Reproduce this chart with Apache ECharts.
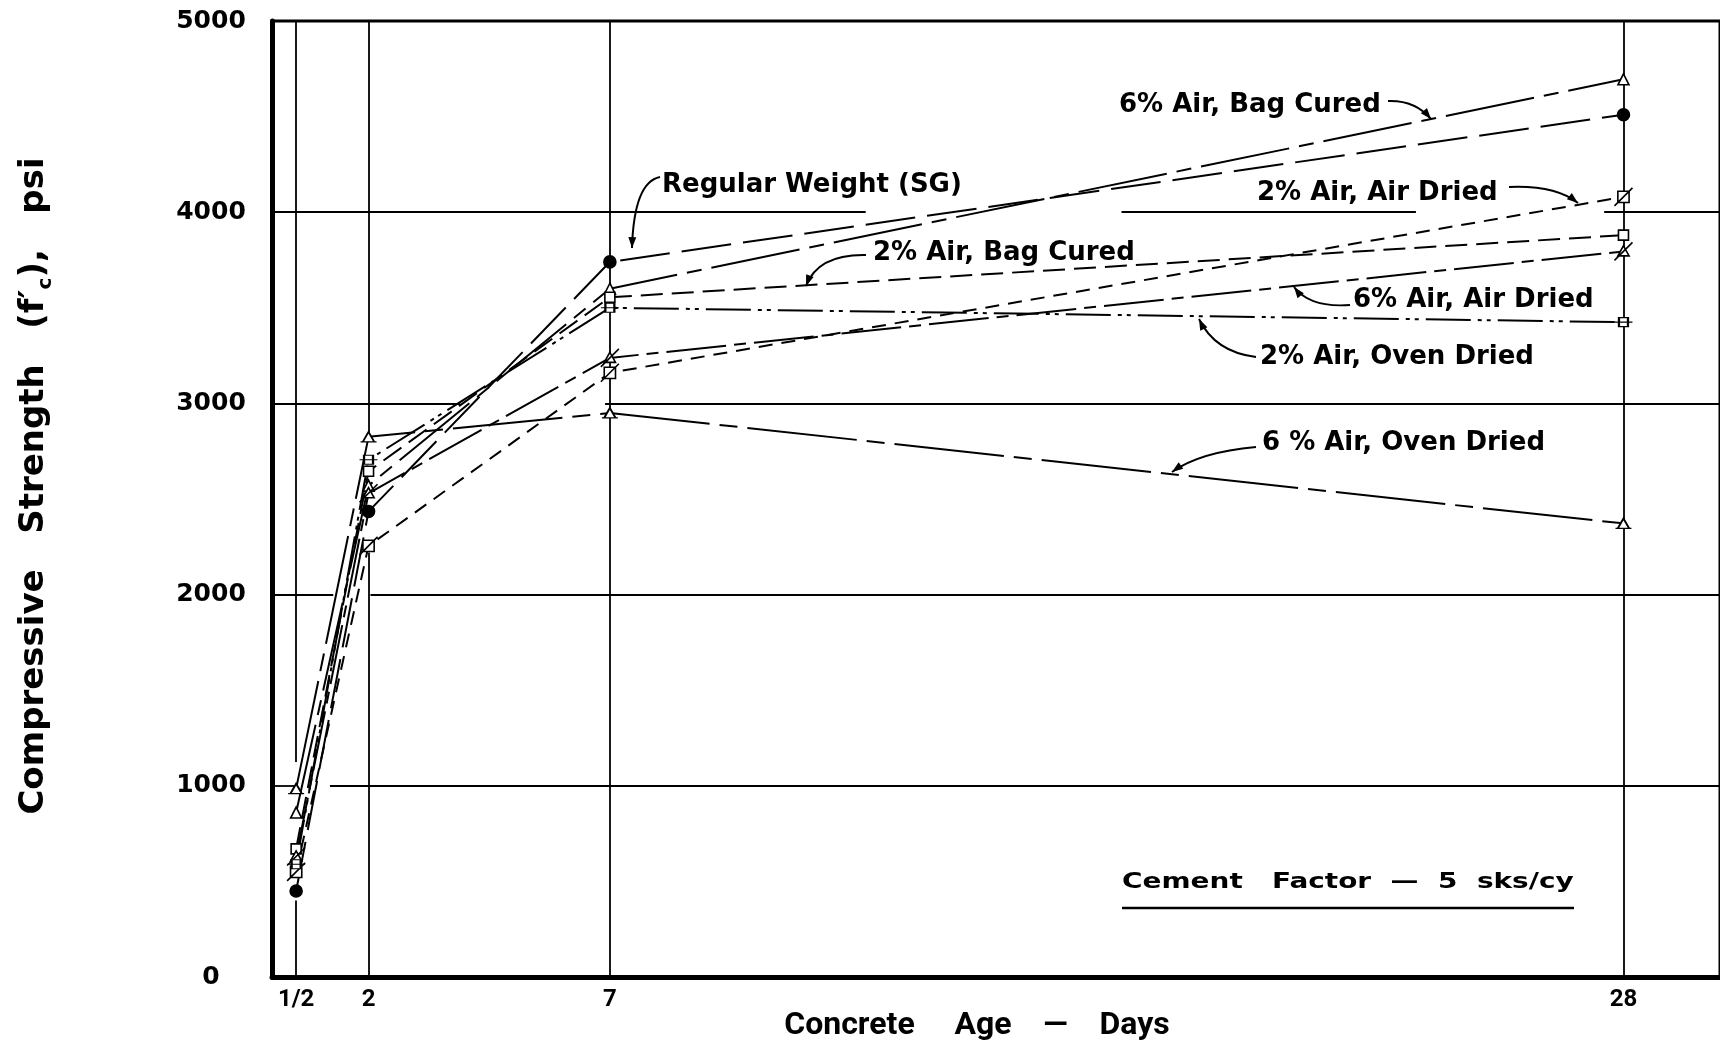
<!DOCTYPE html>
<html>
<head>
<meta charset="utf-8">
<title>Compressive Strength vs Concrete Age</title>
<script src="https://cdn.jsdelivr.net/npm/echarts@6/dist/echarts.min.js"></script>
<style>
  html, body { margin: 0; padding: 0; background: #fff; }
  #chart { width: 1720px; height: 1046px; }
</style>
</head>
<body>
<div id="chart"></div>
<script>
// concrete age (days) and its tick labels
const days = [0.5, 2, 7, 28];
const dayLabels = ["1/2", "2", "7", "28"];

// compressive strength f'c, psi
const regularWeight = [450, 2435, 3740, 4510];
const air6BagCured = [860, 2570, 3600, 4695];
const air2AirDried = [550, 2255, 3160, 4080];
const air2BagCured = [670, 2645, 3555, 3880];
const air6AirDried = [630, 2530, 3238, 3795];
const air2OvenDried = [590, 2705, 3500, 3425];
const air6OvenDried = [985, 2825, 2950, 2372];

// grid lines, drawn in pieces like the original (gaps where the drafting left them out)
const gridLines = [
  [[0, 1000], [0.52, 1000]], [[1.2, 1000], [30, 1000]],
  [[0, 2000], [1.27, 2000]], [[2.04, 2000], [30, 2000]],
  [[0, 3000], [3.9, 3000]], [[6.9, 3000], [30, 3000]],
  [[0, 4000], [12.3, 4000]], [[17.6, 4000], [23.7, 4000]], [[27.6, 4000], [30, 4000]],
  [[0.5, 0], [0.5, 400]], [[0.5, 1125], [0.5, 5000]],
  [[2, 0], [2, 2220]], [[2, 2840], [2, 5000]],
  [[7, 0], [7, 5000]],
  [[28, 0], [28, 5000]],
];

const font = "DejaVu Sans";

const curves = [
  { name: "Regular Weight (SG)", values: regularWeight, symbol: "circle", size: 12, fill: "#000", dash: [50, 12] },
  { name: "6% Air, Bag Cured", values: air6BagCured, symbol: "triangle", size: 11, fill: "#fff", dash: [90, 10, 15, 10] },
  { name: "2% Air, Air Dried", values: air2AirDried, symbol: "path://M3,3L13,3L13,13L3,13Z M0,16L16,0", size: 18, fill: "#fff", dash: [14, 9] },
  { name: "2% Air, Bag Cured", values: air2BagCured, symbol: "rect", size: 10, fill: "#fff", dash: [22, 9] },
  { name: "6% Air, Air Dried", values: air6AirDried, symbol: "path://M8,3L13,12L3,12Z M0,16L16,0", size: 18, fill: "#fff", dash: [60, 8, 12, 8] },
  { name: "2% Air, Oven Dried", values: air2OvenDried, symbol: "path://M4,0L12,0L12,8L4,8Z M0,4L16,4", size: [18, 9], fill: "#fff", dash: [45, 7, 4, 5, 4, 7] },
  { name: "6% Air, Oven Dried", values: air6OvenDried, symbol: "path://M7,0L12,9L2,9Z M0,9L14,9", size: [16, 10], fill: "#fff", dash: [110, 10, 18, 10] },
];

// label text, left x, middle y; arrow: start, control, end
const notes = [
  { text: "Regular Weight (SG)", x: 662, y: 185, arrow: [660, 177, 634, 182, 632, 248] },
  { text: "6% Air, Bag Cured", x: 1119, y: 105, arrow: [1388, 101, 1415, 100, 1431, 119] },
  { text: "2% Air, Air Dried", x: 1257, y: 193, arrow: [1509, 187, 1555, 185, 1578, 203] },
  { text: "2% Air, Bag Cured", x: 873, y: 253, arrow: [866, 255, 818, 254, 806, 286] },
  { text: "6% Air, Air Dried", x: 1353, y: 300, arrow: [1350, 305, 1310, 308, 1294, 287] },
  { text: "2% Air, Oven Dried", x: 1260, y: 357, arrow: [1256, 357, 1215, 352, 1199, 319] },
  { text: "6 % Air, Oven Dried", x: 1262, y: 443, arrow: [1256, 447, 1200, 452, 1172, 472] },
];

const graphics = [];
notes.forEach((n) => {
  graphics.push({
    type: "text",
    x: n.x,
    y: n.y,
    style: { text: n.text, font: "bold 26px " + font, fill: "#000", textAlign: "left", textVerticalAlign: "middle" },
  });
  const [x1, y1, cx, cy, x2, y2] = n.arrow;
  graphics.push({
    type: "bezierCurve",
    shape: { x1: x1, y1: y1, cpx1: cx, cpy1: cy, x2: x2, y2: y2 },
    style: { stroke: "#000", lineWidth: 2, fill: null },
  });
  // arrow head along the end tangent
  const a = Math.atan2(y2 - cy, x2 - cx);
  const len = 11, w = 4;
  const bx = x2 - len * Math.cos(a), by = y2 - len * Math.sin(a);
  graphics.push({
    type: "polygon",
    shape: {
      points: [
        [x2, y2],
        [bx + w * Math.sin(a), by - w * Math.cos(a)],
        [bx - w * Math.sin(a), by + w * Math.cos(a)],
      ],
    },
    style: { fill: "#000" },
  });
});

// axis titles and the cement factor note
graphics.push({
  type: "text",
  x: 34,
  y: 486,
  rotation: Math.PI / 2,
  style: {
    text: "Compressive   Strength   (f′{sub|c}),   psi",
    font: "bold 34px " + font,
    fill: "#000",
    textAlign: "center",
    textVerticalAlign: "middle",
    rich: { sub: { font: "bold 20px " + font, verticalAlign: "bottom", lineHeight: 44 } },
  },
});
graphics.push({
  type: "text",
  x: 977,
  y: 1026,
  style: { text: "Concrete     Age    —    Days", font: "bold 32px Roboto", fill: "#000", textAlign: "center", textVerticalAlign: "middle" },
});
graphics.push({
  type: "text",
  x: 1122,
  y: 882,
  scaleX: 1.27,
  style: { text: "Cement   Factor  —  5  sks/cy", font: "bold 22px " + font, fill: "#000", textAlign: "left", textVerticalAlign: "middle" },
});
graphics.push({
  type: "line",
  shape: { x1: 1122, y1: 908, x2: 1574, y2: 908 },
  style: { stroke: "#000", lineWidth: 2.5 },
});

const series = [
  {
    type: "lines",
    coordinateSystem: "cartesian2d",
    silent: true,
    z: 1,
    lineStyle: { color: "#000", width: 1.8, opacity: 1 },
    data: gridLines.map((seg) => ({ coords: seg })),
  },
];
curves.forEach((c) => {
  series.push({
    name: c.name,
    type: "line",
    z: 3,
    data: days.map((d, i) => [d, c.values[i]]),
    symbol: c.symbol,
    symbolSize: c.size,
    showAllSymbol: true,
    lineStyle: { color: "#000", width: 2, type: c.dash },
    itemStyle: { color: c.fill, borderColor: "#000", borderWidth: 1.6 },
    emphasis: { disabled: true },
  });
});

const chart = echarts.init(document.getElementById("chart"));
chart.setOption({
  animation: false,
  backgroundColor: "#fff",
  grid: { left: 272, right: -3, top: 21, bottom: 69, show: true, borderColor: "#000", borderWidth: 3 },
  xAxis: {
    type: "value",
    min: 0,
    max: 30,
    axisLine: { show: true, lineStyle: { color: "#000", width: 5 } },
    axisTick: { show: false },
    splitLine: { show: false },
    axisLabel: {
      customValues: days,
      formatter: (v) => dayLabels[days.indexOf(v)],
      color: "#000",
      fontFamily: "Roboto",
      fontWeight: "bold",
      fontSize: 24,
      margin: 11,
    },
  },
  yAxis: {
    type: "value",
    min: 0,
    max: 5000,
    interval: 1000,
    axisLine: { show: true, lineStyle: { color: "#000", width: 5 } },
    axisTick: { show: false },
    splitLine: { show: false },
    axisLabel: {
      formatter: (v) => String(v),
      color: "#000",
      fontFamily: font,
      fontWeight: "bold",
      fontSize: 25,
      align: "center",
      margin: 61,
    },
  },
  graphic: graphics,
  series: series,
});
</script>
</body>
</html>
